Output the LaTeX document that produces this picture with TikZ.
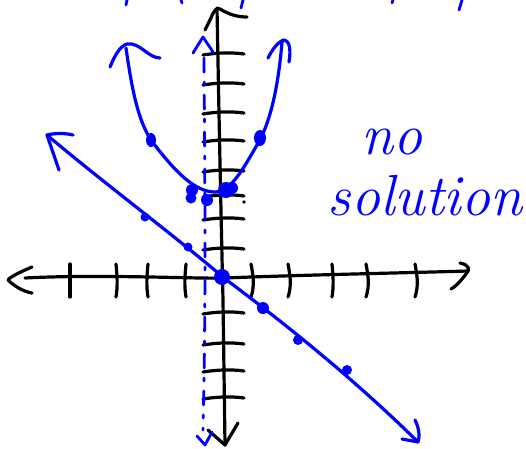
\documentclass[tikz,border=0pt]{standalone}
\usepackage{fontspec}
\begin{document}
\begin{tikzpicture}[x=1pt,y=-1pt,
  ink/.style={line width=3.2pt,line cap=round,line join=round},
  axis/.style={ink,black},
  curve/.style={ink,draw=blue},
  tick/.style={ink,black},
  dot/.style={fill=blue,draw=none}]
\useasboundingbox (0,0) rectangle (526,448);
% top cut-off text fragments
\draw[curve,line width=2.8pt] (127,0) -- (126,5);
\draw[curve,line width=2.8pt] (181,0) -- (182,3);
\draw[curve,line width=2.8pt] (243,0) -- (241,8);
\draw[curve,line width=2.8pt] (393,0) -- (392,3);
\draw[curve,line width=2.8pt] (462,0) -- (459,10);
% y axis
\draw[axis] (217,8) .. controls (219,120) and (222,260) .. (223,300) -- (225,445);
\draw[axis] (205,30) -- (211,18) .. controls (214,10) and (217,7) .. (220,9) .. controls (230,15) and (238,17) .. (247,17);
\draw[axis] (208,430) -- (225,445) -- (238,423);
% x axis
\draw[axis] (25,278) .. controls (100,274) and (200,279) .. (224,278) .. controls (300,275) and (400,273) .. (468,271);
\draw[axis] (32,267) .. controls (20,272) and (10,277) .. (8,280) .. controls (15,287) and (25,292) .. (32,293);
\draw[axis] (460,263) .. controls (470,265) and (470,270) .. (466,274) .. controls (460,282) and (455,287) .. (451,289);
% x ticks
\foreach \x/\b in {70/0,117/-1,147/1,185/1,253/-2,290/-2,333/-1,368/-2,417/-2}
  \draw[tick] (\x+\b,264) .. controls (\x,275) and (\x-\b,285) .. (\x+\b,297);
% y ticks
\foreach \y in {53,83,112,140,170,195,218,248,312,343,370,397}
  \draw[tick] (203,\y+2) .. controls (215,\y) and (230,\y-1) .. (244,\y+1);
\fill (244,202) circle (1.8);
% blue dashed vertical line
\draw[curve,line width=2.8pt,dash pattern=on 14pt off 10pt on 3pt off 10pt] (204,58) .. controls (205,200) and (206,300) .. (203,430);
\draw[curve,line width=2.8pt] (193,53) -- (203,37) -- (213,52);
\draw[curve,line width=2.8pt] (197,436) -- (205,445) -- (212,432);
% parabola
\draw[curve] (282,42) .. controls (278,90) and (270,120) .. (260,140)
  .. controls (245,165) and (232,192) .. (215,192)
  .. controls (195,192) and (175,172) .. (151,140)
  .. controls (138,120) and (132,90) .. (126,48);
\draw[curve] (110,67) .. controls (115,55) and (120,46) .. (127,44) .. controls (140,42) and (148,58) .. (160,58);
\draw[curve] (268,58) .. controls (272,50) and (277,43) .. (283,40) .. controls (290,40) and (291,50) .. (289,62);
\fill[dot] (151,140) ellipse (5 and 7);
\fill[dot] (260,138) ellipse (6 and 8);
\fill[dot] (192,190) circle (6);
\fill[dot] (191,198) circle (5.5);
\fill[dot] (207,200) circle (6);
\fill[dot] (226,190) circle (8);
\fill[dot] (232,188) circle (6);
% line y = -x
\draw[curve] (47,135) .. controls (100,180) and (180,240) .. (224,278)
  .. controls (280,320) and (350,375) .. (418,442);
\draw[curve] (73,135) .. controls (65,133) and (55,133) .. (47,135) -- (59,170);
\draw[curve] (415,420) .. controls (419,428) and (420,436) .. (418,442) -- (402,439);
\fill[dot] (145,217) circle (4.5);
\fill[dot] (188,247) circle (4.5);
\fill[dot] (222,277) circle (8);
\fill[dot] (263,308) circle (6);
\fill[dot] (298,340) circle (5);
\fill[dot] (347,370) circle (5);
% text
\node[text=blue,font=\itshape\fontsize{58}{58}\selectfont] (no) at (392,142) {no};
\node[text=blue,font=\itshape\fontsize{58}{58}\selectfont] (sol) at (425,196) {solution};
\end{tikzpicture}
\end{document}
